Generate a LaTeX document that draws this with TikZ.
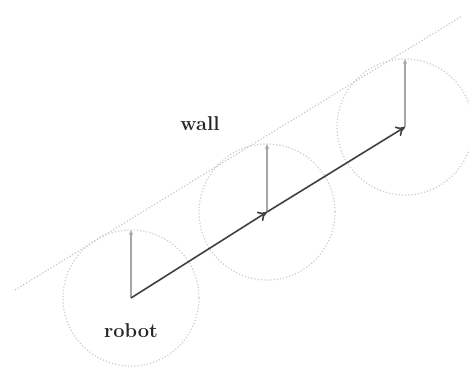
\documentclass[tikz,border=0pt]{standalone}
\usetikzlibrary{arrows.meta}
\begin{document}
\begin{tikzpicture}[x=1pt,y=-1pt,
  wallline/.style={draw=black!22,line width=1.2pt,dotted},
  body/.style={draw=black!20,line width=1.2pt,dotted},
  up/.style={draw=black!35,line width=1.2pt,-{Stealth[length=5pt,width=4pt]}},
  move/.style={draw=black!75,line width=1.6pt,-{To[length=9pt,width=11pt]}},
  lbl/.style={font=\fontsize{20}{24}\selectfont\bfseries,text=black!85}]
\useasboundingbox (0,0) rectangle (469,371);
\coordinate (c1) at (131,298);
\coordinate (c2) at (267,212);
\coordinate (c3) at (405,127);
\coordinate (t1) at (131,230);
\coordinate (t2) at (267,144);
\coordinate (t3) at (405,59);
\coordinate (w1) at (15,290);
\coordinate (w2) at (462,16);
\draw[wallline] (w1) -- (w2);
\draw[body] (c1) circle (68);
\draw[body] (c2) circle (68);
\draw[body] (c3) circle (68);
\draw[up] (c1) -- (t1);
\draw[up] (c2) -- (t2);
\draw[up] (c3) -- (t3);
\draw[move] (c1) -- (c2);
\draw[move] (c2) -- (c3);
\node[lbl] (wall) at (200,124) {wall};
\node[lbl] (robot) at (131,331) {robot};
\end{tikzpicture}
\end{document}
